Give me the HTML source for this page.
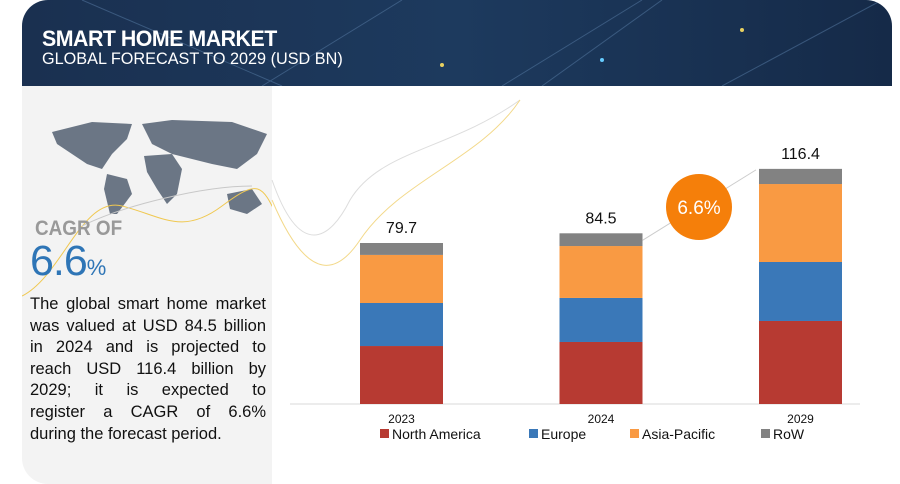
<!DOCTYPE html>
<html><head><meta charset="utf-8"><style>
body{margin:0;width:900px;height:484px;background:#fff;position:relative;overflow:hidden;font-family:"Liberation Sans",sans-serif}
#header{position:absolute;left:22px;top:0;width:870px;height:86px;border-radius:26px 26px 0 0;background:linear-gradient(90deg,#1a3050,#1d3a5e 50%,#152a48);overflow:hidden}
#left{position:absolute;left:22px;top:86px;width:250px;height:398px;background:#f3f3f3;border-radius:0 0 0 26px}
.t1{position:absolute;left:20px;top:26px;color:#fff;font:bold 22px "Liberation Sans",sans-serif;letter-spacing:-0.5px;transform:scaleX(0.97);transform-origin:left}
.t2{position:absolute;left:20px;top:49px;color:#fff;font:17px "Liberation Sans",sans-serif;transform:scaleX(0.955);transform-origin:left}
#desc{position:absolute;left:8px;top:208px;width:236px;font-size:16.5px;line-height:21.6px;color:#111}
#desc div{text-align:justify;text-align-last:justify;white-space:nowrap}
#desc div.last{text-align-last:left}
</style></head><body>
<div id="header">
<svg width="870" height="86" style="position:absolute;left:0;top:0">
<path d="M60 0 L260 86 M380 0 L240 86 M620 0 L480 86 M700 86 L860 0 M520 86 L640 0" stroke="#5a7fa8" stroke-width="1" opacity="0.5"/>
<circle cx="720" cy="30" r="2" fill="#e8d060"/><circle cx="580" cy="60" r="2" fill="#6cf"/><circle cx="420" cy="65" r="2" fill="#e8d060"/>
</svg>
<div class="t1">SMART HOME MARKET</div>
<div class="t2">GLOBAL FORECAST TO 2029 (USD BN)</div>
</div>
<div id="left">
<svg width="250" height="120" style="position:absolute;left:10px;top:28px">
<g fill="#6b7685">
<path d="M20 18 L60 8 L100 10 L95 25 L80 40 L70 55 L55 50 L40 40 L25 30Z"/>
<path d="M75 60 L95 65 L100 80 L85 100 L78 100 L72 75Z"/>
<path d="M110 10 L140 6 L200 8 L235 20 L225 40 L205 55 L180 50 L160 45 L140 40 L120 30Z"/>
<path d="M112 42 L140 40 L150 55 L145 80 L135 90 L125 75 L115 58Z"/>
<path d="M195 80 L220 75 L230 90 L215 100 L198 95Z"/>
</g></svg>
<svg width="250" height="200" style="position:absolute;left:0;top:60px">
<path d="M0 150 C40 130 60 50 100 60 S160 90 200 60 S240 40 260 80" fill="none" stroke="#f0c850" stroke-width="1"/>
<path d="M60 80 C100 60 180 40 230 40" fill="none" stroke="#c8c8c8" stroke-width="1"/>
</svg>
<div style="position:absolute;left:13px;top:131px;font:bold 21px 'Liberation Sans',sans-serif;color:#999;transform:scaleX(0.9);transform-origin:left">CAGR OF</div>
<div style="position:absolute;left:8px;top:151px;font-size:43px;line-height:48px;color:#2e75b6;letter-spacing:-1px">6.6<span style="font-size:22px">%</span></div>
<div id="desc"><div>The global smart home market</div><div>was valued at USD 84.5 billion</div><div>in 2024 and is projected to</div><div>reach USD 116.4 billion by</div><div>2029; it is expected to</div><div>register a CAGR of 6.6%</div><div class="last">during the forecast period.</div></div>
</div>
<svg id="chart" width="900" height="484" style="position:absolute;left:0;top:0">
<path d="M272 180 C300 260 330 240 350 200 C380 150 450 150 520 100" fill="none" stroke="#ddd" stroke-width="1"/>
<path d="M272 200 C310 290 340 270 360 240 C400 180 480 160 520 100" fill="none" stroke="#f3d98a" stroke-width="1"/>
</svg>
<script>
const categories=["2023","2024","2029"];
const northAmerica=[28.7,30.7,41.1];
const europe=[21.3,21.8,29.2];
const asiaPacific=[23.8,25.7,38.6];
const row=[5.9,6.3,7.5];
const totals=["79.7","84.5","116.4"];
const seriesNames=["North America","Europe","Asia-Pacific","RoW"];
const colors=["#b73a32","#3a78b8","#f99a43","#828282"];
const svg=document.getElementById('chart');
const NS="http://www.w3.org/2000/svg";
const baseY=404, scale=2.02, barW=83;
function xPos(i){return 360+i*199.5;}
function yPos(v){return baseY-v*scale;}
function mk(t,a){const e=document.createElementNS(NS,t);for(const k in a)e.setAttribute(k,a[k]);svg.appendChild(e);return e;}
const ax=mk('line',{x1:290,y1:baseY,x2:860,y2:baseY,stroke:'#d9d9d9','stroke-width':1});


const series=[northAmerica,europe,asiaPacific,row];
const tops=[];
categories.forEach((c,i)=>{
  let cum=0;
  series.forEach((s,j)=>{
    const y1=yPos(cum+s[i]);const y0=yPos(cum);
    const r=mk('rect',{x:xPos(i),y:y1,width:barW,height:y0-y1,fill:colors[j]});
    
    
    cum+=s[i];
  });
  tops.push(yPos(cum));
  const tl=mk('text',{x:xPos(i)+barW/2,y:yPos(cum)-10,'text-anchor':'middle','font-size':16,fill:'#111','font-family':'Liberation Sans, sans-serif'});
  tl.textContent=totals[i];
  
  
  const xl=mk('text',{x:xPos(i)+barW/2,y:423,'text-anchor':'middle','font-size':12,fill:'#111','font-family':'Liberation Sans, sans-serif'});
  xl.textContent=c;
  
  
});
const ar=mk('line',{x1:xPos(1)+barW,y1:tops[1]+7,x2:xPos(2)-3,y2:tops[2]+1,stroke:'#ccc','stroke-width':1});


const cc=mk('circle',{cx:699,cy:207,r:33,fill:'#f57f0a'});


const ct=mk('text',{x:699,y:214,'text-anchor':'middle','font-size':19,fill:'#fff','font-family':'Liberation Sans, sans-serif'});
ct.textContent='6.6%';


const lx=[380,529,630,761];
seriesNames.forEach((n,j)=>{
  const r=mk('rect',{x:lx[j],y:429,width:9,height:9,fill:colors[j]});
  
  
  const t=mk('text',{x:lx[j]+12,y:439,'font-size':14,fill:'#111','font-family':'Liberation Sans, sans-serif'});
  t.textContent=n;
  
  
});
</script>
</body></html>
